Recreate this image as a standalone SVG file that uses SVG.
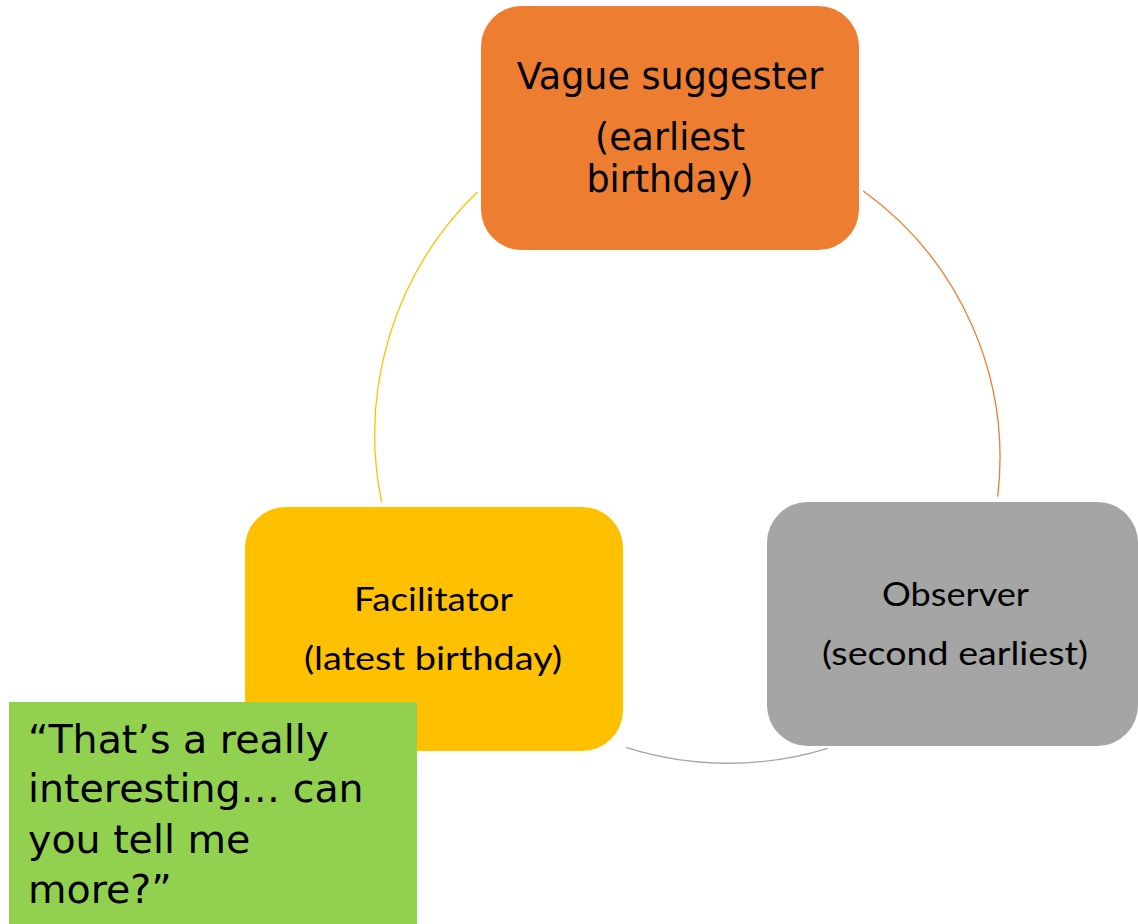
<svg xmlns="http://www.w3.org/2000/svg" width="1138" height="924" viewBox="0 0 1138 924">
  <style>
    .arc { fill: none; stroke-width: 1.3; }
    .futura { font-family: "DejaVu Sans", Lato, sans-serif; fill: #000; }
    .calibri { font-family: Lato, "Liberation Sans", sans-serif; fill: #000; font-size: 33px; }
  </style>
  <rect width="1138" height="924" fill="#ffffff"/>
  <g id="connectors">
    <path class="arc" stroke="#FFC000" d="M 477.3 192 A 338 338 0 0 0 381.7 502.7"/>
    <path class="arc" stroke="#ED7D31" d="M 863.3 191 A 329.5 329.5 0 0 1 997.7 496.7"/>
    <path class="arc" stroke="#A5A5A5" d="M 827.7 748.3 A 337 337 0 0 1 626 747.3"/>
  </g>
  <g id="node-vague-suggester">
    <rect x="481" y="6" width="378" height="244" rx="40.7" fill="#ED7D31"/>
    <text class="futura" font-size="36.5" text-anchor="middle" x="670" y="89">Vague suggester</text>
    <text class="futura" font-size="36.5" text-anchor="middle" x="670" y="150">(earliest</text>
    <text class="futura" font-size="36.5" text-anchor="middle" x="670" y="192">birthday)</text>
  </g>
  <g id="node-observer">
    <rect x="767" y="502" width="371" height="244" rx="40.7" fill="#A5A5A5"/>
    <text class="calibri" x="882" y="606" textLength="147" lengthAdjust="spacingAndGlyphs">Observer</text>
    <text class="calibri" x="822" y="665" textLength="266" lengthAdjust="spacingAndGlyphs">(second earliest)</text>
  </g>
  <g id="node-facilitator">
    <rect x="245" y="507" width="378" height="244" rx="40.7" fill="#FFC000"/>
    <text class="calibri" x="354" y="611" textLength="159" lengthAdjust="spacingAndGlyphs">Facilitator</text>
    <text class="calibri" x="304" y="670" textLength="258" lengthAdjust="spacingAndGlyphs">(latest birthday)</text>
  </g>
  <g id="node-quote">
    <rect x="9" y="702" width="408" height="230" fill="#92D050"/>
    <text class="futura" font-size="39.5">
      <tspan x="28" y="753">“That’s a really</tspan>
      <tspan x="28" y="802">interesting… can</tspan>
      <tspan x="28" y="853">you tell me</tspan>
      <tspan x="28" y="903">more?”</tspan>
    </text>
  </g>
</svg>
